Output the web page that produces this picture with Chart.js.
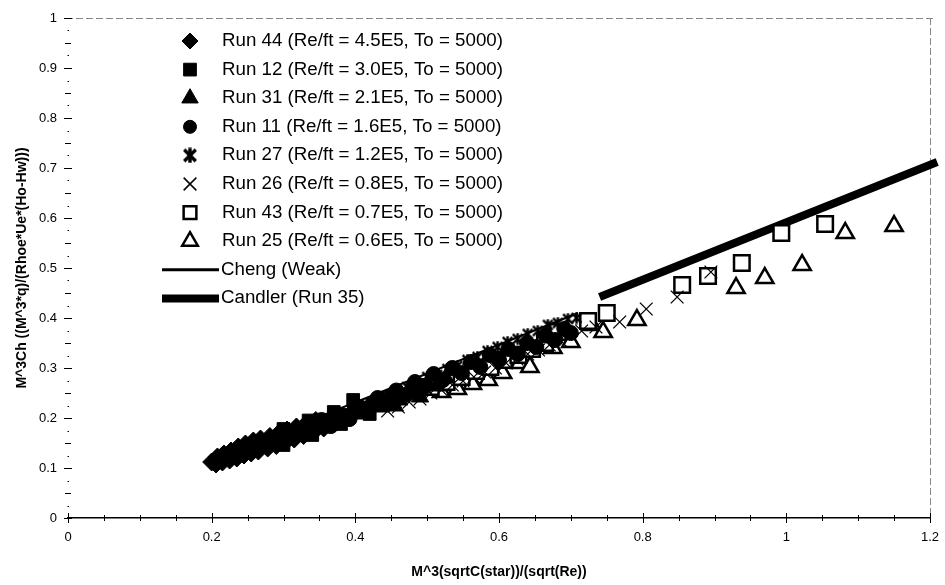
<!DOCTYPE html>
<html><head><meta charset="utf-8">
<script src="https://cdn.jsdelivr.net/npm/chart.js@4/dist/chart.umd.min.js"></script>
<style>html,body{margin:0;padding:0;background:#fff;}#wrap{width:945px;height:585px;}</style>
</head><body><div id="wrap"><canvas id="c" width="945" height="585"></canvas></div>
<script>
const xTickLabels = ['0','0.2','0.4','0.6','0.8','1','1.2'];
const yTickLabels = ['0','0.1','0.2','0.3','0.4','0.5','0.6','0.7','0.8','0.9','1'];
const xTitle = 'M^3(sqrtC(star))/(sqrt(Re))';
const yTitle = 'M^3Ch ((M^3*q)/(Rhoe*Ue*(Ho-Hw)))';
const seriesNames = [
  'Run 44 (Re/ft = 4.5E5, To = 5000)',
  'Run 12 (Re/ft = 3.0E5, To = 5000)',
  'Run 31 (Re/ft = 2.1E5, To = 5000)',
  'Run 11 (Re/ft = 1.6E5, To = 5000)',
  'Run 27 (Re/ft = 1.2E5, To = 5000)',
  'Run 26 (Re/ft = 0.8E5, To = 5000)',
  'Run 43 (Re/ft = 0.7E5, To = 5000)',
  'Run 25 (Re/ft = 0.6E5, To = 5000)',
  'Cheng (Weak)',
  'Candler (Run 35)'
];
const run44 = [[0.200,0.112],[0.206,0.108],[0.208,0.122],[0.215,0.112],[0.217,0.128],[0.225,0.116],[0.227,0.134],[0.235,0.120],[0.237,0.142],[0.245,0.126],[0.247,0.148],[0.255,0.130],[0.258,0.154],[0.265,0.134],[0.268,0.158],[0.278,0.140],[0.281,0.163],[0.290,0.145],[0.293,0.169],[0.302,0.151],[0.305,0.176],[0.315,0.158],[0.318,0.182],[0.328,0.165],[0.331,0.188],[0.342,0.172],[0.345,0.195],[0.356,0.180]];
const run12 = [[0.232,0.130],[0.242,0.136],[0.252,0.141],[0.262,0.145],[0.273,0.150],[0.284,0.155],[0.296,0.160],[0.300,0.178],[0.308,0.166],[0.320,0.172],[0.333,0.178],[0.335,0.195],[0.346,0.185],[0.359,0.191],[0.370,0.212],[0.372,0.198],[0.385,0.206],[0.397,0.236],[0.398,0.213],[0.411,0.220],[0.424,0.226],[0.437,0.233],[0.450,0.242],[0.300,0.146],[0.340,0.166],[0.380,0.188],[0.420,0.208]];
const run31 = [[0.280,0.146],[0.292,0.158],[0.305,0.156],[0.318,0.170],[0.331,0.168],[0.344,0.183],[0.357,0.180],[0.370,0.196],[0.383,0.194],[0.396,0.210],[0.409,0.208],[0.422,0.224],[0.435,0.222],[0.448,0.239],[0.461,0.236],[0.474,0.254],[0.487,0.250],[0.500,0.268],[0.513,0.264],[0.526,0.280],[0.455,0.224],[0.490,0.242]];
const run11 = [[0.340,0.176],[0.353,0.196],[0.366,0.184],[0.379,0.206],[0.392,0.198],[0.405,0.222],[0.418,0.212],[0.431,0.240],[0.444,0.228],[0.457,0.255],[0.470,0.246],[0.483,0.272],[0.496,0.262],[0.509,0.288],[0.522,0.276],[0.535,0.300],[0.548,0.290],[0.561,0.312],[0.574,0.302],[0.587,0.326],[0.600,0.316],[0.613,0.338],[0.626,0.328],[0.639,0.350],[0.652,0.342],[0.665,0.365],[0.678,0.356],[0.691,0.378],[0.700,0.370]];
const run27 = [[0.402,0.214],[0.416,0.226],[0.430,0.232],[0.444,0.244],[0.458,0.250],[0.472,0.262],[0.486,0.268],[0.500,0.282],[0.514,0.286],[0.528,0.298],[0.542,0.304],[0.556,0.316],[0.570,0.322],[0.584,0.334],[0.598,0.342],[0.612,0.352],[0.626,0.358],[0.640,0.368],[0.654,0.374],[0.668,0.386],[0.682,0.390],[0.696,0.398],[0.708,0.400]];
const run26 = [[0.445,0.214],[0.460,0.222],[0.475,0.232],[0.490,0.238],[0.505,0.250],[0.520,0.256],[0.535,0.266],[0.550,0.274],[0.565,0.282],[0.580,0.292],[0.595,0.300],[0.610,0.310],[0.625,0.318],[0.640,0.328],[0.655,0.336],[0.670,0.346],[0.685,0.356],[0.700,0.364],[0.715,0.374],[0.735,0.382],[0.768,0.392],[0.805,0.418],[0.848,0.442],[0.895,0.492]];
const run43 = [[0.505,0.262],[0.527,0.272],[0.548,0.282],[0.568,0.294],[0.588,0.302],[0.607,0.316],[0.627,0.326],[0.646,0.338],[0.664,0.350],[0.682,0.372],[0.724,0.394],[0.750,0.410],[0.855,0.466],[0.891,0.484],[0.938,0.510],[0.993,0.570],[1.054,0.588]];
const run25 = [[0.520,0.252],[0.542,0.258],[0.563,0.268],[0.585,0.276],[0.605,0.290],[0.629,0.310],[0.643,0.302],[0.675,0.340],[0.700,0.352],[0.729,0.386],[0.745,0.372],[0.792,0.396],[0.930,0.460],[0.970,0.480],[1.022,0.506],[1.082,0.570],[1.150,0.584]];
const chengWeak = [[0.200,0.116],[0.710,0.410]];
const candler35 = [[0.740,0.442],[1.210,0.712]];

const FONT = "'Liberation Sans', Arial, sans-serif";
const toXY = a => a.map(p => ({x: p[0], y: p[1]}));

function asterisk(size, lw) {
  const cv = document.createElement('canvas');
  cv.width = size; cv.height = size;
  const g = cv.getContext('2d');
  const m = lw / 2 + 0.5, s = size - m, c = size / 2;
  g.strokeStyle = '#000'; g.lineWidth = lw; g.lineCap = 'butt';
  g.beginPath();
  g.moveTo(c, 0.5); g.lineTo(c, size - 0.5);
  g.moveTo(m, m); g.lineTo(s, s);
  g.moveTo(s, m); g.lineTo(m, s);
  g.stroke();
  return cv;
}
const starData = asterisk(13, 2.4);
const starLegend = asterisk(16, 3.4);

const mk = (i, data, style, r, fill, bw, legR, legBw, legStyle) => ({
  label: seriesNames[i], data: toXY(data), pointStyle: style, pointRadius: r,
  backgroundColor: fill, borderColor: '#000', borderWidth: bw, showLine: false,
  legR: legR, legBw: legBw, legStyle: legStyle || style
});

const datasets = [
  mk(0, run44, 'rectRot', 9, '#000', 1, 8, 1),
  mk(1, run12, 'rect', 9, '#000', 1, 9, 1),
  mk(2, run31, 'triangle', 10, '#000', 1, 9.5, 1),
  mk(3, run11, 'circle', 7.5, '#000', 1, 6.5, 1),
  mk(4, run27, starData, 7, '#000', 1, 8, 1, starLegend),
  mk(5, run26, 'crossRot', 9, '#000', 1.3, 9, 1.5),
  mk(6, run43, 'rect', 11, '#fff', 2.5, 9, 2.5),
  mk(7, run25, 'triangle', 10, '#fff', 2.5, 9, 2.5),
  {label: seriesNames[8], data: toXY(chengWeak), showLine: true, borderColor: '#000', borderWidth: 2, pointRadius: 0, backgroundColor: '#000'},
  {label: seriesNames[9], data: toXY(candler35), showLine: true, borderColor: '#000', borderWidth: 8, pointRadius: 0, backgroundColor: '#000', clip: false}
];

const deco = {
  id: 'deco',
  beforeDatasetsDraw(chart) {
    const {ctx, chartArea: a, scales: {x, y}} = chart;
    ctx.save();
    ctx.strokeStyle = '#888'; ctx.lineWidth = 1; ctx.setLineDash([7, 3]);
    ctx.beginPath();
    ctx.moveTo(a.left - 2, a.top + 0.5); ctx.lineTo(a.right + 6, a.top + 0.5);
    ctx.moveTo(a.right + 0.5, a.top); ctx.lineTo(a.right + 0.5, a.bottom);
    ctx.stroke();
    ctx.setLineDash([]);
    ctx.strokeStyle = '#000'; ctx.lineWidth = 1;
    ctx.beginPath();
    for (let i = 0; i <= 24; i++) {
      const px = Math.round(x.getPixelForValue(i * 0.05)) + 0.5;
      const len = (i % 4 === 0) ? 5 : 3;
      ctx.moveTo(px, a.bottom - len); ctx.lineTo(px, a.bottom + len);
    }
    for (let i = 0; i <= 40; i++) {
      const py = Math.round(y.getPixelForValue(i * 0.025)) + 0.5;
      const px = a.left;
      if (i % 4 === 0) { ctx.moveTo(px - 4, py); ctx.lineTo(px + 4, py); }
      else if (i % 2 === 0) { ctx.moveTo(px - 3, py); ctx.lineTo(px + 3, py); }
      else { ctx.moveTo(px - 0.5, py); ctx.lineTo(px + 1, py); }
    }
    ctx.stroke();
    ctx.restore();
  },
  afterDraw(chart) {
    const ctx = chart.ctx;
    ctx.save();
    ctx.font = '18px ' + FONT;
    ctx.textBaseline = 'middle';
    chart.data.datasets.forEach((ds, i) => {
      const yy = 41 + i * 28.6;
      if (ds.showLine) {
        ctx.strokeStyle = '#000'; ctx.lineWidth = ds.borderWidth === 2 ? 3 : 8; ctx.lineCap = 'butt';
        ctx.beginPath(); ctx.moveTo(162, yy); ctx.lineTo(219, yy); ctx.stroke();
        ctx.fillStyle = '#000';
        ctx.save(); ctx.translate(221, yy); ctx.scale(1.04, 1); ctx.fillText(ds.label, 0, 0); ctx.restore();
      } else {
        ctx.fillStyle = ds.backgroundColor; ctx.strokeStyle = '#000'; ctx.lineWidth = ds.legBw;
        Chart.helpers.drawPoint(ctx, {pointStyle: ds.legStyle, radius: ds.legR, rotation: 0, borderWidth: ds.legBw}, 190, yy);
        ctx.fillStyle = '#000';
        ctx.save(); ctx.translate(222, yy); ctx.scale(1.04, 1); ctx.fillText(ds.label, 0, 0); ctx.restore();
      }
    });
    ctx.restore();
  }
};

const hiddenTicks = {display: true, drawOnChartArea: false, drawTicks: true, tickLength: 9, color: 'rgba(0,0,0,0)'};

new Chart(document.getElementById('c'), {
  type: 'scatter',
  data: {datasets},
  plugins: [deco],
  options: {
    responsive: false, animation: false, events: [],
    layout: {padding: {left: 0, top: 18, right: 15, bottom: 0}},
    plugins: {legend: {display: false}, tooltip: {enabled: false}},
    scales: {
      x: {
        type: 'linear', min: 0, max: 1.2,
        afterFit(s) { s.height = 67; },
        border: {display: true, color: '#000', width: 1.5},
        grid: hiddenTicks,
        ticks: {stepSize: 0.2, padding: 3, color: '#000', maxRotation: 0,
          font: {family: FONT, size: 13}, callback: (v, i) => xTickLabels[i]},
        title: {display: true, text: xTitle, color: '#000',
          font: {family: FONT, size: 14, weight: 'bold'}, padding: {top: 0, bottom: 4}}
      },
      y: {
        type: 'linear', min: 0, max: 1,
        afterFit(s) { s.width = 68; },
        border: {display: false},
        grid: Object.assign({}, hiddenTicks, {tickLength: 8}),
        ticks: {stepSize: 0.1, padding: 3, color: '#000',
          font: {family: FONT, size: 13}, callback: (v, i) => yTickLabels[i]},
        title: {display: true, text: yTitle, color: '#000',
          font: {family: FONT, size: 14, weight: 'bold'}, padding: {top: 14, bottom: 0}}
      }
    }
  }
});
</script></body></html>
